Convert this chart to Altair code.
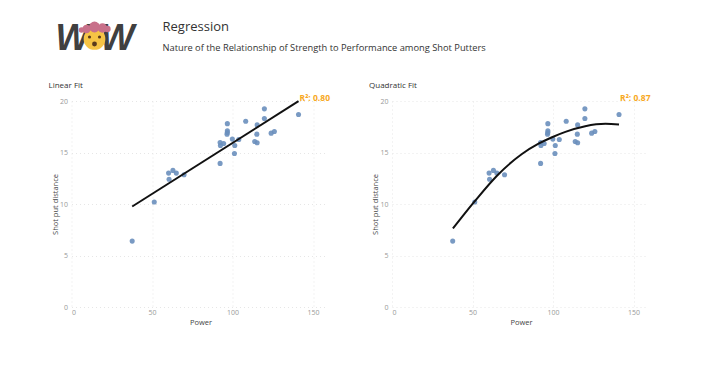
import altair as alt
import pandas as pd

power = [37.7, 51.4, 69.9, 65.1, 63.0, 60.3, 60.6, 92.3, 92.5, 92.3, 94.5, 96.8, 96.8, 96.8, 96.6,
         99.9, 101.4, 101.2, 103.9, 108.2, 115.3, 115.1, 113.8, 115.3, 119.8, 119.8, 124.0, 126.0, 141.0]
distance = [6.4, 10.2, 12.84, 13.0, 13.26, 13.0, 12.4, 13.94, 15.68, 15.97, 15.87, 17.8, 17.1, 16.94, 16.78,
            16.3, 15.68, 14.9, 16.26, 18.04, 17.68, 16.78, 16.07, 15.94, 19.24, 18.3, 16.88, 17.04, 18.69]
linear_x = [37.7, 141.0]
linear_y = [9.76, 19.98]
quad_x = [37.8, 44.5, 51.3, 65.2, 80.7, 91.0, 99.4, 107.7, 120.0, 132.6, 141.0]
quad_y = [7.63, 8.95, 10.25, 12.75, 14.85, 15.85, 16.48, 17.0, 17.55, 17.78, 17.72]

FONT = "Open Sans"
scatter = pd.DataFrame({"Power": power, "Distance": distance})


def panel(title, fit_x, fit_y, r2):
    x = alt.X("Power:Q", scale=alt.Scale(domain=[0, 159], nice=False),
              axis=alt.Axis(values=[0, 50, 100, 150], title="Power", titleX=129, labelPadding=1, titlePadding=3))
    y = alt.Y("Distance:Q", scale=alt.Scale(domain=[0, 20], nice=False),
              axis=alt.Axis(values=[0, 5, 10, 15, 20], title="Shot put distance", titlePadding=0))
    pts = alt.Chart(scatter).mark_circle(size=26, color="#6a8fbd", opacity=0.9).encode(x=x, y=y)
    fit = pd.DataFrame({"Power": fit_x, "Distance": fit_y})
    line = alt.Chart(fit).mark_line(color="#111111", strokeWidth=2, interpolate="monotone").encode(x="Power:Q", y="Distance:Q")
    lab = alt.Chart(pd.DataFrame({"Power": [fit_x[-1]], "Distance": [20.0], "t": [r2]})).mark_text(
        align="left", baseline="middle", dx=1, dy=-3, fontSize=8.5, fontWeight="bold", color="#f7a823", font=FONT
    ).encode(x="Power:Q", y="Distance:Q", text="t:N")
    return alt.layer(pts, line, lab).properties(
        width=256, height=206,
        title=alt.TitleParams(title, anchor="start", frame="group", dx=-23, fontSize=8,
                              fontWeight="normal", color="#333333", font=FONT, offset=4),
    )


def v(n):
    return alt.value(n)


blank = alt.Chart(pd.DataFrame({"a": [1]}))
wow = [blank.mark_text(text="W", font="Liberation Sans", fontWeight="bold", fontStyle="italic",
                       fontSize=36, color="#404040", align="center", baseline="alphabetic").encode(x=v(px), y=v(42))
       for px in [1, 46]]
face = blank.mark_circle(color="#f6c445", opacity=1, size=470).encode(x=v(23), y=v(31))
blobs = [blank.mark_circle(color="#c8708a", opacity=1, size=s).encode(x=v(px), y=v(py))
         for px, py, s in [(15, 21, 70), (23, 19, 120), (31, 20, 90), (36, 21, 40), (10, 22, 30)]]
eyes = [blank.mark_circle(color="#5a3a1c", opacity=1, size=10).encode(x=v(px), y=v(29)) for px in [18, 28]]
mouth = blank.mark_circle(color="#5a3a1c", opacity=1, size=24).encode(x=v(23), y=v(36))
head1 = blank.mark_text(text="Regression", font=FONT, fontSize=13, color="#333333", align="left", baseline="middle").encode(x=v(91), y=v(19))
head2 = blank.mark_text(text="Nature of the Relationship of Strength to Performance among Shot Putters",
                        font=FONT, fontSize=9.3, color="#333333", align="left", baseline="middle").encode(x=v(91), y=v(40))
header = alt.layer(*wow, face, *blobs, *eyes, mouth, head1, head2).properties(width=600, height=50)

chart = alt.vconcat(
    header,
    alt.hconcat(panel("Linear Fit", linear_x, linear_y, "R²: 0.80"),
                panel("Quadratic Fit", quad_x, quad_y, "R²: 0.87"), spacing=38.5),
    spacing=24,
).properties(padding={"left": 40.5, "top": 0, "right": 0, "bottom": 0}).configure_view(stroke=None).configure_axis(
    domain=False, ticks=False, grid=True, gridColor="#e6e6e6", gridDash=[1, 3], gridWidth=1,
    labelFont=FONT, labelFontSize=7, labelColor="#999999", labelPadding=4,
    titleFont=FONT, titleFontSize=7.5, titleFontWeight="normal", titleColor="#444444", titlePadding=4,
).configure_concat(spacing=0)

chart.save("out.html", embed_options={"renderer": "svg", "actions": False})
